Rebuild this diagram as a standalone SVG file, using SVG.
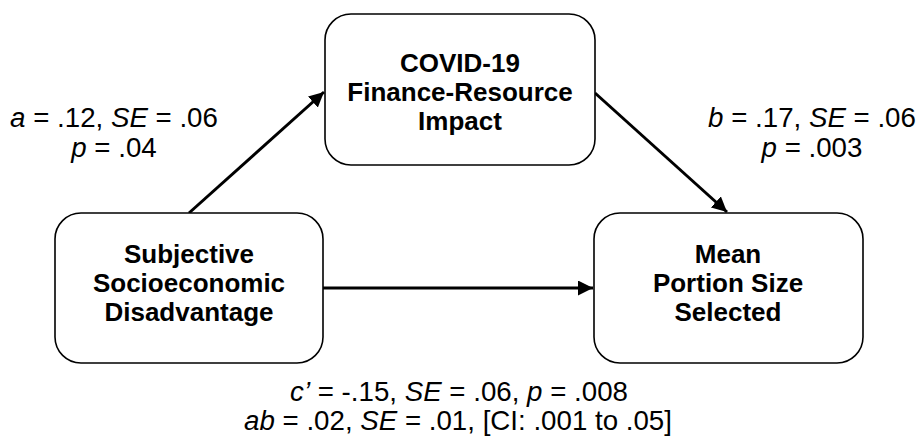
<svg xmlns="http://www.w3.org/2000/svg" width="921" height="439" viewBox="0 0 921 439">
  <defs>
    <marker id="ah" viewBox="0 0 10 10" refX="10" refY="5" markerWidth="5" markerHeight="5" orient="auto" markerUnits="strokeWidth">
      <path d="M0,0 L10,5 L0,10 z" fill="#000"/>
    </marker>
    <style>
      .box { fill: #fff; stroke: #000; stroke-width: 1.6; }
      .nt { font-family: "Liberation Sans", Arial, sans-serif; font-weight: bold; font-size: 26px; text-anchor: middle; fill: #000; }
      .lt { font-family: "Liberation Sans", Arial, sans-serif; font-size: 27.7px; text-anchor: middle; fill: #000; }
      .conn { stroke: #000; stroke-width: 3; fill: none; marker-end: url(#ah); }
    </style>
  </defs>
  <rect width="921" height="439" fill="#fff"/>
  <g id="connectors">
    <line class="conn" x1="189" y1="213" x2="324" y2="92"/>
    <line class="conn" x1="595" y1="93" x2="727" y2="212"/>
    <line class="conn" x1="323" y1="288" x2="593" y2="288"/>
  </g>
  <g id="node-covid">
    <rect class="box" x="325" y="14" width="270" height="151" rx="26"/>
    <text class="nt" x="460" y="72">COVID-19</text>
    <text class="nt" x="460" y="101">Finance-Resource</text>
    <text class="nt" x="460" y="130">Impact</text>
  </g>
  <g id="node-ses">
    <rect class="box" x="55" y="213" width="268" height="150" rx="26"/>
    <text class="nt" x="189" y="263">Subjective</text>
    <text class="nt" x="189" y="292">Socioeconomic</text>
    <text class="nt" x="189" y="321">Disadvantage</text>
  </g>
  <g id="node-portion">
    <rect class="box" x="594" y="213" width="269" height="150" rx="26"/>
    <text class="nt" x="728" y="263">Mean</text>
    <text class="nt" x="728" y="292">Portion Size</text>
    <text class="nt" x="728" y="321">Selected</text>
  </g>
  <g id="labels">
    <text class="lt" x="114" y="127"><tspan font-style="italic">a</tspan> = .12, <tspan font-style="italic">SE</tspan> = .06</text>
    <text class="lt" x="114" y="157"><tspan font-style="italic">p</tspan> = .04</text>
    <text class="lt" x="812" y="127"><tspan font-style="italic">b</tspan> = .17, <tspan font-style="italic">SE</tspan> = .06</text>
    <text class="lt" x="812" y="157"><tspan font-style="italic">p</tspan> = .003</text>
    <text class="lt" x="459" y="401"><tspan font-style="italic">c’</tspan> = -.15, <tspan font-style="italic">SE</tspan> = .06, <tspan font-style="italic">p</tspan> = .008</text>
    <text class="lt" x="458" y="430"><tspan font-style="italic">ab</tspan> = .02, <tspan font-style="italic">SE</tspan> = .01, [CI: .001 to .05]</text>
  </g>
</svg>
